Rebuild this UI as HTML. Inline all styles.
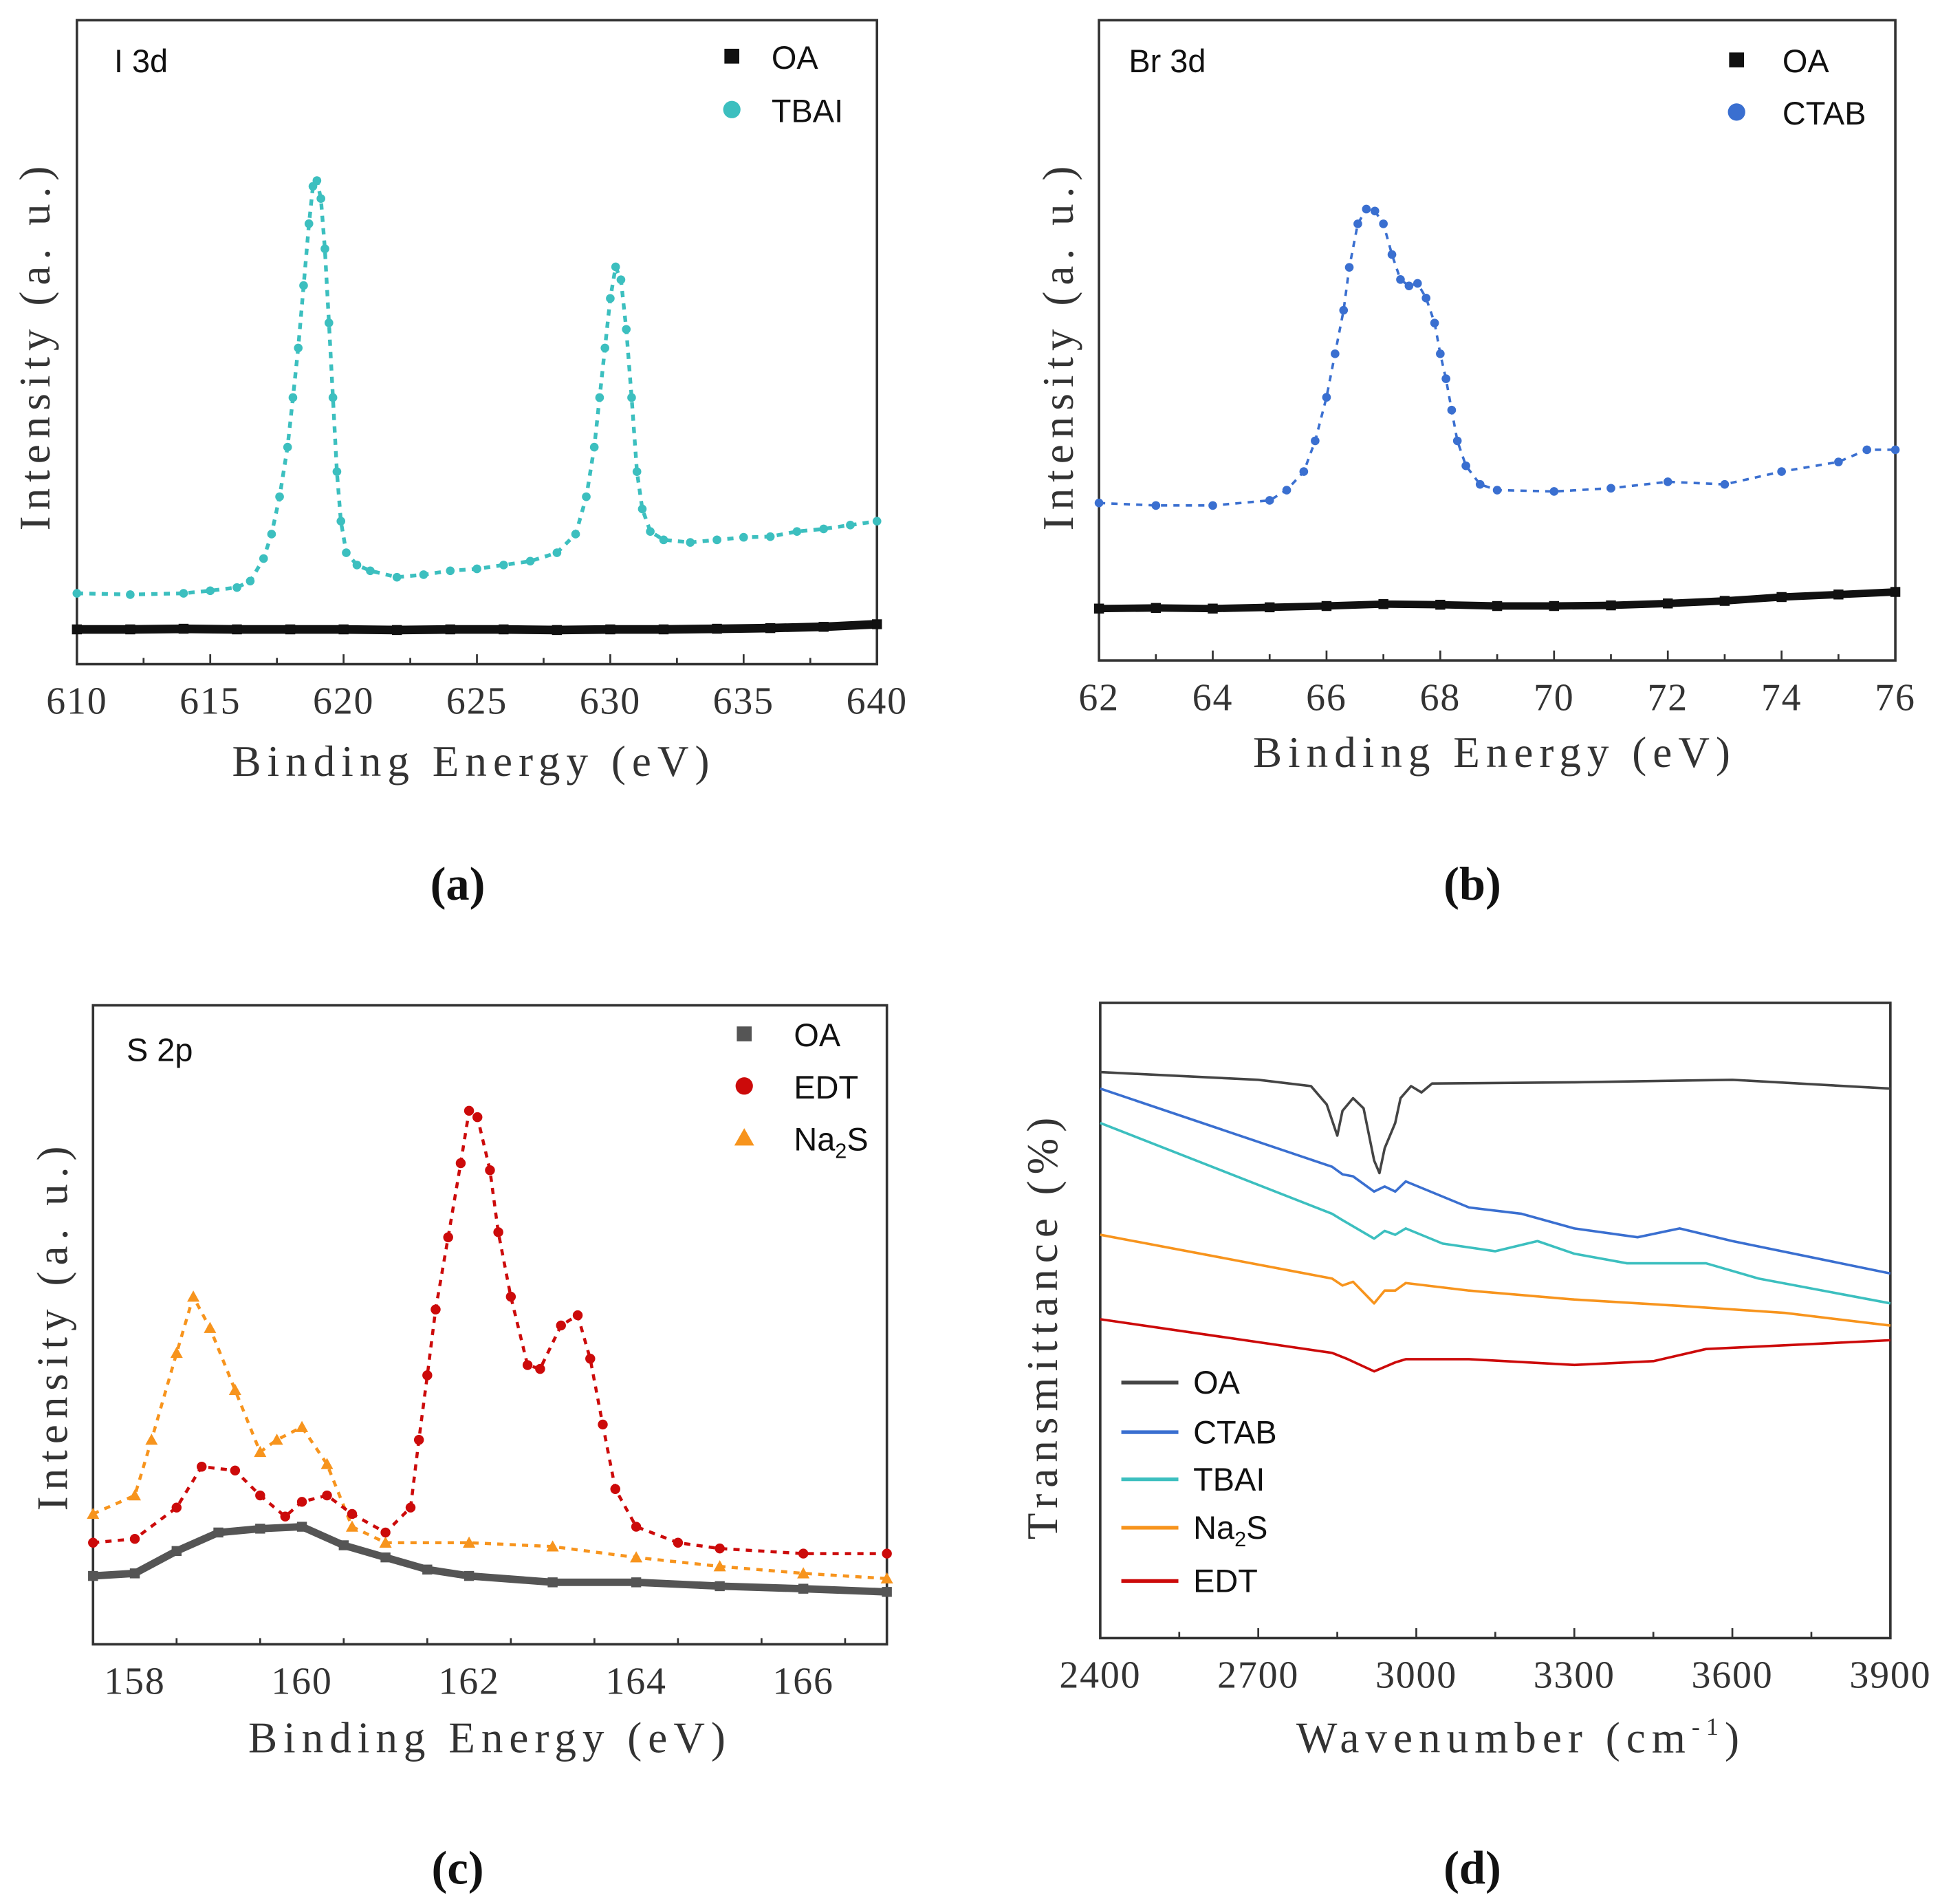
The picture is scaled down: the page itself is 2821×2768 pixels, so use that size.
<!DOCTYPE html>
<html><head><meta charset="utf-8">
<style>
html,body{margin:0;padding:0;background:#fff;}
svg{display:block;}
.tick{font-family:"Liberation Serif","DejaVu Serif",serif;font-size:31px;fill:#333;letter-spacing:1px;}
.title{font-family:"Liberation Serif","DejaVu Serif",serif;font-size:35px;fill:#333;letter-spacing:5px;}
.leg{font-family:"Liberation Sans","DejaVu Sans",sans-serif;font-size:26px;fill:#111;}
.plab{font-family:"Liberation Serif",serif;font-size:38px;font-weight:bold;fill:#111;}
</style></head>
<body>
<svg id="fig" width="2821" height="2768" viewBox="0 0 1564 1534" xmlns="http://www.w3.org/2000/svg">
<rect width="1564" height="1534" fill="#fff"/>
</svg>
<script>
// ---- Panel (a) I 3d ----
const aTbaiX=[610,612,614,615,616,616.5,617,617.3,617.6,617.9,618.1,618.3,618.5,618.7,618.85,619,619.15,619.3,619.45,619.6,619.75,619.9,620.1,620.5,621,622,623,624,625,626,627,628,628.7,629.1,629.4,629.6,629.8,630,630.2,630.4,630.6,630.8,631,631.2,631.5,632,633,634,635,636,637,638,639,640];
const aTbaiY=[11.0,10.8,11.0,11.4,11.9,12.9,16.4,20.2,26.0,33.7,41.4,49.1,58.8,68.4,74.2,75.1,72.3,64.5,53.0,41.4,29.9,22.2,17.3,15.4,14.5,13.5,13.9,14.5,14.8,15.4,16.0,17.3,20.2,26.0,33.7,41.4,49.1,56.8,61.7,59.7,52.0,41.4,29.9,24.1,20.6,19.3,18.9,19.3,19.7,19.8,20.6,21.0,21.6,22.2];
const aOaX=[610,612,614,616,618,620,622,624,626,628,630,632,634,636,638,640];
const aOaY=[5.4,5.4,5.5,5.4,5.4,5.4,5.3,5.4,5.4,5.3,5.4,5.4,5.5,5.6,5.8,6.2];
const aTicks=[610,615,620,625,630,635,640];
// ---- Panel (b) Br 3d ----
const bCtabX=[62,63,64,65,65.3,65.6,65.8,66,66.15,66.3,66.4,66.55,66.7,66.85,67,67.15,67.3,67.45,67.6,67.75,67.9,68,68.1,68.2,68.3,68.45,68.7,69,70,71,72,73,74,75,75.5,76];
const bCtabY=[24.6,24.2,24.2,25.0,26.6,29.5,34.3,41.1,47.9,54.7,61.4,68.2,70.5,70.2,68.2,63.4,59.5,58.5,58.9,56.6,52.7,47.9,44.0,39.1,34.3,30.4,27.5,26.6,26.4,26.9,27.9,27.5,29.5,31.0,32.9,32.9];
const bOaX=[62,63,64,65,66,67,68,69,70,71,72,73,74,75,76];
const bOaY=[8.1,8.2,8.1,8.3,8.5,8.8,8.7,8.5,8.5,8.6,8.9,9.3,9.9,10.3,10.7];
const bTicks=[62,64,66,68,70,72,74,76];
// ---- Panel (c) S 2p ----
const cOaX=[157.5,158,158.5,159,159.5,160,160.5,161,161.5,162,163,164,165,166,167];
const cOaY=[10.7,11.1,14.6,17.5,18.1,18.4,15.5,13.6,11.7,10.7,9.7,9.7,9.1,8.7,8.2];
const cEdtX=[157.5,158,158.5,158.8,159.2,159.5,159.8,160,160.3,160.6,161,161.3,161.4,161.5,161.6,161.75,161.9,162,162.1,162.25,162.35,162.5,162.7,162.85,163.1,163.3,163.45,163.6,163.75,164,164.5,165,166,167];
const cEdtY=[15.9,16.5,21.4,27.8,27.2,23.3,20.0,22.3,23.3,20.4,17.5,21.4,32.0,42.1,52.4,63.7,75.3,83.5,82.5,74.2,64.5,54.4,43.7,43.1,49.9,51.5,44.7,34.4,24.3,18.4,15.9,15.0,14.2,14.2];
const cNaX=[157.5,158,158.2,158.5,158.7,158.9,159.2,159.5,159.7,160,160.3,160.6,161,162,163,164,165,166,167];
const cNaY=[20.4,23.3,32.0,45.6,54.4,49.5,39.8,30.1,32.0,34.0,28.2,18.4,15.9,15.9,15.3,13.6,12.2,11.1,10.3];
const cTicks=[158,160,162,164,166];
// ---- Panel (d) FTIR ----
const dOaX=[2400,2700,2800,2830,2850,2860,2880,2900,2920,2930,2940,2960,2970,2990,3010,3030,3300,3600,3900];
const dOaY=[89.1,87.9,86.9,84.0,79.1,83.0,85.0,83.4,75.2,73.2,77.1,81.1,85.0,86.9,85.9,87.3,87.5,87.9,86.5];
const dCtabX=[2400,2840,2860,2880,2920,2940,2960,2980,3100,3200,3300,3420,3500,3600,3900];
const dCtabY=[86.5,74.2,73.0,72.7,70.3,71.1,70.3,71.9,67.8,66.8,64.5,63.1,64.5,62.5,57.4];
const dTbaiX=[2400,2840,2860,2920,2940,2960,2980,3050,3150,3230,3300,3400,3550,3650,3900];
const dTbaiY=[81.1,66.8,65.8,62.9,64.1,63.5,64.5,62.1,60.9,62.5,60.5,59.0,59.0,56.6,52.7];
const dNaX=[2400,2840,2860,2880,2920,2940,2960,2980,3100,3300,3500,3700,3900];
const dNaY=[63.5,56.6,55.5,56.1,52.7,54.7,54.7,55.9,54.7,53.3,52.3,51.2,49.2];
const dEdtX=[2400,2840,2870,2920,2960,2980,3100,3300,3450,3550,3650,3900];
const dEdtY=[50.2,44.9,43.9,42.0,43.4,43.9,43.9,43.0,43.6,45.5,45.9,46.9];
const dTicks=[2400,2700,3000,3300,3600,3900];

const NS='http://www.w3.org/2000/svg';
const fig=document.getElementById('fig');
function mk(tag,attrs,parent){const e=document.createElementNS(NS,tag);for(const k in attrs)e.setAttribute(k,attrs[k]);(parent||fig).appendChild(e);return e;}

function panel(p){
  const g=mk('g',{});
  
  
  const sx=v=>p.x0+(v-p.xmin)/(p.xmax-p.xmin)*(p.x1-p.x0);
  const sy=v=>p.y1-v/100*(p.y1-p.y0);
  p.sx=sx;p.sy=sy;p.g=g;
  for(let v=p.xmin;v<=p.xmax+1e-9;v+=p.minor){
    const isMaj=p.ticks.some(t=>Math.abs(t-v)<1e-6);
    const t=mk('line',{x1:sx(v),x2:sx(v),y1:p.y1,y2:p.y1-(isMaj?8:5),stroke:'#333','stroke-width':1.5},g);
    
    
  }
  p.ticks.forEach(v=>{
    const t=mk('text',{x:sx(v),y:p.y1+40,'text-anchor':'middle',class:'tick'},g);
    t.textContent=String(v);
    
    
  });
  const f=mk('rect',{x:p.x0,y:p.y0,width:p.x1-p.x0,height:p.y1-p.y0,fill:'none',stroke:'#333','stroke-width':2},g);
  
  
  return p;
}
function pts(p,xs,ys){return xs.map((x,i)=>p.sx(x).toFixed(1)+','+p.sy(ys[i]).toFixed(1)).join(' ');}
function scatter(p,xs,ys,color,shape,size,lw,name){
  const g=mk('g',{},p.g);
  
  
  if(lw>0){
    const l=mk('polyline',{points:pts(p,xs,ys),fill:'none',stroke:color,'stroke-width':lw,'stroke-linejoin':'round','stroke-dasharray':shape==='circ'||shape==='tri'?'5 5':'none'},g);
    
    
  }
  xs.forEach((x,i)=>{
    const cx=p.sx(x),cy=p.sy(ys[i]);let m;
    if(shape==='sq')m=mk('rect',{x:cx-size,y:cy-size,width:2*size,height:2*size,fill:color},g);
    else if(shape==='tri')m=mk('polygon',{points:`${cx},${cy-size} ${cx-size},${cy+size*0.8} ${cx+size},${cy+size*0.8}`,fill:color},g);
    else m=mk('circle',{cx:cx,cy:cy,r:size,fill:color},g);
    
    
  });
}
function line(p,xs,ys,color,name){
  const l=mk('polyline',{points:pts(p,xs,ys),fill:'none',stroke:color,'stroke-width':2,'stroke-linejoin':'round'},p.g);
  
  
}
function txt(s,x,y,cls,name,extra){
  const t=mk('text',Object.assign({x:x,y:y,class:cls},extra||{}));
  t.textContent=s;
  
  
  return t;
}
function legMarker(shape,x,y,color,name){
  let m;
  if(shape==='sq')m=mk('rect',{x:x-6,y:y-6,width:12,height:12,fill:color});
  else if(shape==='tri')m=mk('polygon',{points:`${x},${y-8} ${x-8},${y+6} ${x+8},${y+6}`,fill:color});
  else m=mk('circle',{cx:x,cy:y,r:7,fill:color});
  
  
}
const TEAL='#3cbfbf',BLUE='#3a6fd0',RED='#cc0a0a',ORANGE='#f7941d';

// (a)
const pa=panel({name:'panel-a',x0:62,x1:707,y0:16,y1:535,xmin:610,xmax:640,minor:2.5,ticks:aTicks});
scatter(pa,aOaX,aOaY,'#111','sq',4,7,'oa-series-a');
scatter(pa,aTbaiX,aTbaiY,TEAL,'circ',3.5,3,'tbai-series-a');
txt('I 3d',92,58,'leg','panel-a-label-i3d');
legMarker('sq',590,45,'#111','legend-a-oa-marker');txt('OA',622,55,'leg','legend-a-oa');
legMarker('circ',590,88,TEAL,'legend-a-tbai-marker');txt('TBAI',622,98,'leg','legend-a-tbai');
txt('Binding Energy (eV)',382,625,'title','x-axis-title-a',{'text-anchor':'middle'});
txt('Intensity (a. u.)',0,0,'title','y-axis-title-a',{'text-anchor':'middle',transform:'translate(40,278) rotate(-90)'});
txt('(a)',369,725,'plab','panel-label-a',{'text-anchor':'middle'});

// (b)
const pb=panel({name:'panel-b',x0:886,x1:1528,y0:16,y1:532,xmin:62,xmax:76,minor:1,ticks:bTicks});
scatter(pb,bOaX,bOaY,'#111','sq',4,6,'oa-series-b');
scatter(pb,bCtabX,bCtabY,BLUE,'circ',3.5,2,'ctab-series-b');
txt('Br 3d',910,58,'leg','panel-b-label-br3d');
legMarker('sq',1400,48,'#111','legend-b-oa-marker');txt('OA',1437,58,'leg','legend-b-oa');
legMarker('circ',1400,90,BLUE,'legend-b-ctab-marker');txt('CTAB',1437,100,'leg','legend-b-ctab');
txt('Binding Energy (eV)',1205,618,'title','x-axis-title-b',{'text-anchor':'middle'});
txt('Intensity (a. u.)',0,0,'title','y-axis-title-b',{'text-anchor':'middle',transform:'translate(865,278) rotate(-90)'});
txt('(b)',1187,725,'plab','panel-label-b',{'text-anchor':'middle'});

// (c)
const pc=panel({name:'panel-c',x0:75,x1:715,y0:810,y1:1325,xmin:157.5,xmax:167,minor:1,ticks:cTicks});
scatter(pc,cOaX,cOaY,'#555','sq',4,6,'oa-series-c');
scatter(pc,cNaX,cNaY,ORANGE,'tri',5,2.5,'na2s-series-c');
scatter(pc,cEdtX,cEdtY,RED,'circ',4,2.5,'edt-series-c');
txt('S 2p',102,855,'leg','panel-c-label-s2p');
legMarker('sq',600,833,'#555','legend-c-oa-marker');txt('OA',640,843,'leg','legend-c-oa');
legMarker('circ',600,875,RED,'legend-c-edt-marker');txt('EDT',640,885,'leg','legend-c-edt');
legMarker('tri',600,917,ORANGE,'legend-c-na2s-marker');
(function(){const t=txt('Na',640,927,'leg','legend-c-na2s');const s=mk('tspan',{'font-size':'17',dy:'6'},t);s.textContent='2';const s2=mk('tspan',{dy:'-6'},t);s2.textContent='S';})();
txt('Binding Energy (eV)',395,1412,'title','x-axis-title-c',{'text-anchor':'middle'});
txt('Intensity (a. u.)',0,0,'title','y-axis-title-c',{'text-anchor':'middle',transform:'translate(54,1068) rotate(-90)'});
txt('(c)',369,1518,'plab','panel-label-c',{'text-anchor':'middle'});

// (d)
const pd=panel({name:'panel-d',x0:887,x1:1524,y0:808,y1:1320,xmin:2400,xmax:3900,minor:150,ticks:dTicks});
line(pd,dOaX,dOaY,'#444','oa-line-d');
line(pd,dCtabX,dCtabY,BLUE,'ctab-line-d');
line(pd,dTbaiX,dTbaiY,TEAL,'tbai-line-d');
line(pd,dNaX,dNaY,ORANGE,'na2s-line-d');
line(pd,dEdtX,dEdtY,RED,'edt-line-d');
const dLeg=[['OA','#444',1114],['CTAB',BLUE,1154],['TBAI',TEAL,1192],['Na2S',ORANGE,1231],['EDT',RED,1274]];
dLeg.forEach(d=>{
  const l=mk('line',{x1:904,x2:950,y1:d[2],y2:d[2],stroke:d[1],'stroke-width':3});
  
  
  if(d[0]==='Na2S'){const t=txt('Na',962,d[2]+9,'leg','legend-d-na2s');const s=mk('tspan',{'font-size':'17',dy:'6'},t);s.textContent='2';const s2=mk('tspan',{dy:'-6'},t);s2.textContent='S';}
  else txt(d[0],962,d[2]+9,'leg','legend-d-entry');
});
(function(){const t=txt('Wavenumber (cm',1045,1412,'title','x-axis-title-d');const s=mk('tspan',{'font-size':'20',dy:'-14'},t);s.textContent='-1';const s2=mk('tspan',{dy:'14'},t);s2.textContent=')';})();
txt('Transmittance (%)',0,0,'title','y-axis-title-d',{'text-anchor':'middle',transform:'translate(852,1068) rotate(-90)'});
txt('(d)',1187,1518,'plab','panel-label-d',{'text-anchor':'middle'});
</script>
</body></html>
